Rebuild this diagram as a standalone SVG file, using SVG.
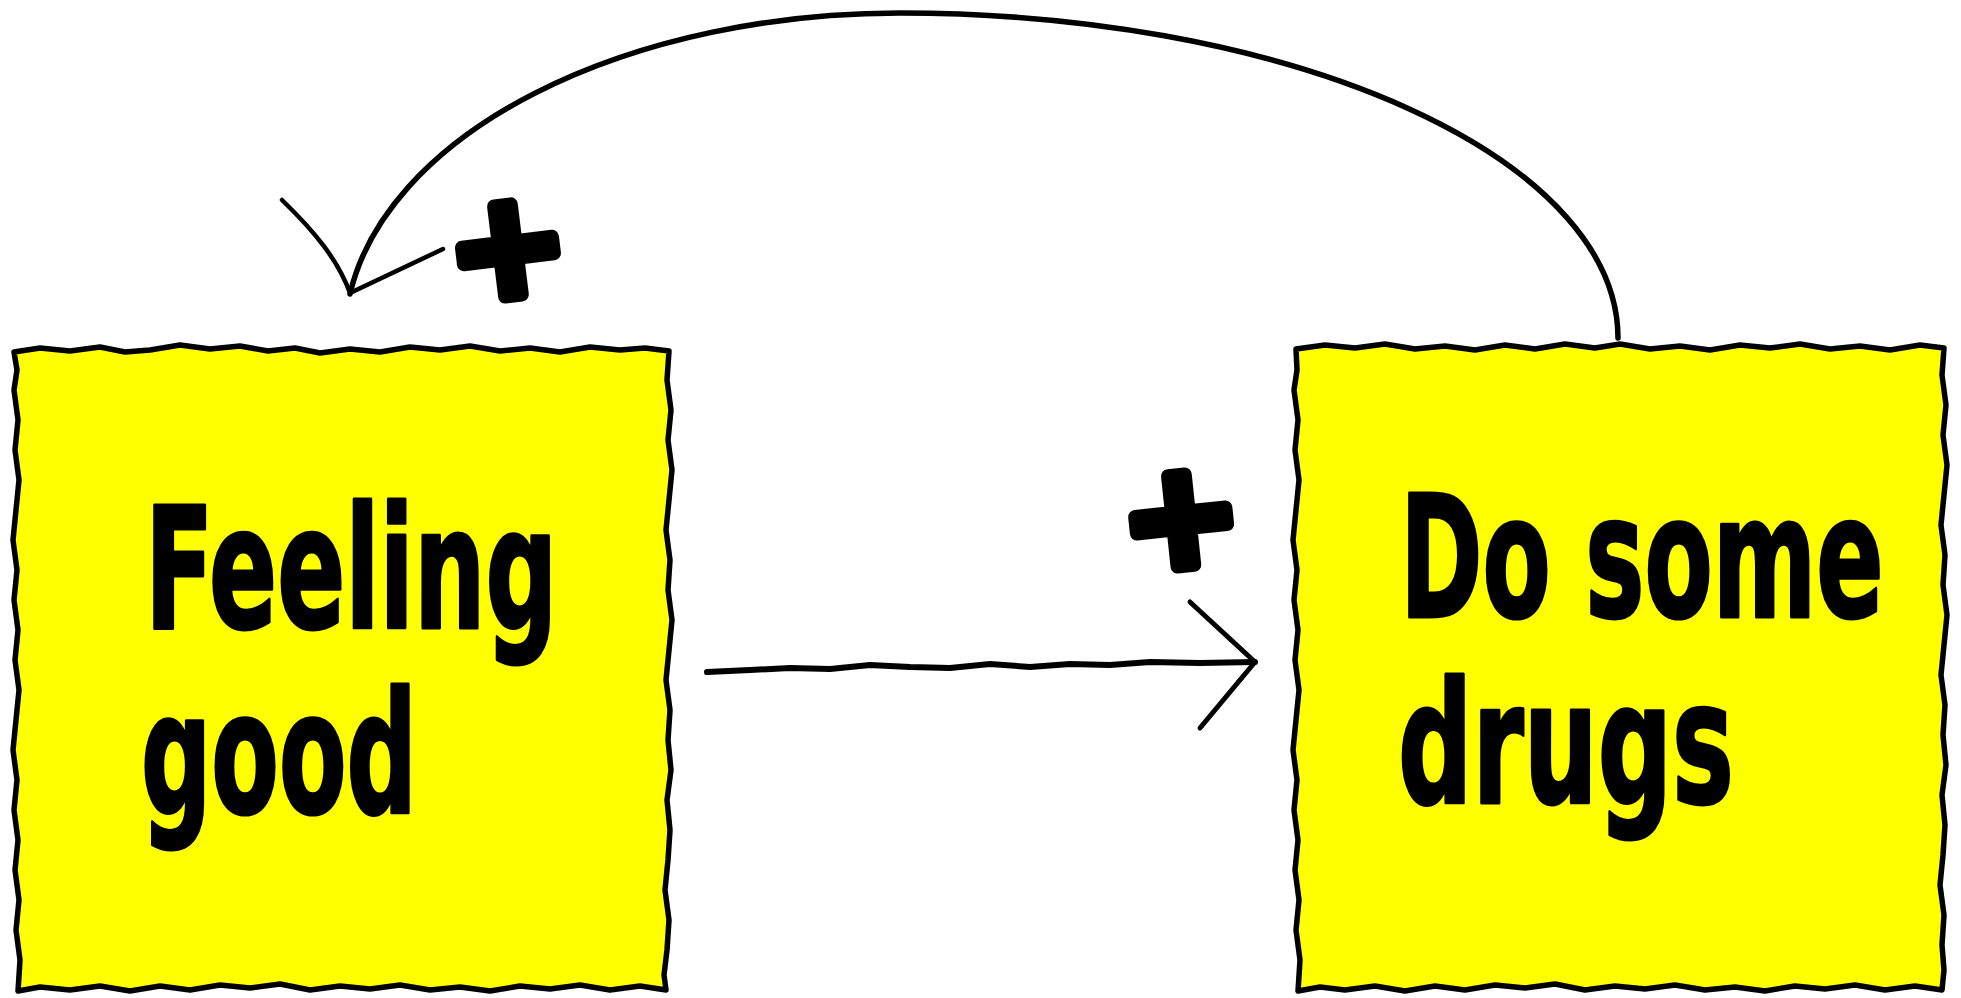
<svg xmlns="http://www.w3.org/2000/svg" width="1961" height="998" viewBox="0 0 1961 998">
<style>
.box{fill:#FFFF00;stroke:#000;stroke-width:5.5;stroke-linejoin:round}
.lbl{font-family:"DejaVu Sans Condensed","DejaVu Sans",sans-serif;font-weight:bold;font-size:169px;fill:#000;stroke:#000;stroke-width:3;stroke-linejoin:round}
.wire{fill:none;stroke:#000;stroke-linecap:round;stroke-linejoin:round}
.pol{font-family:"DejaVu Sans",sans-serif;font-weight:bold;font-size:145px;fill:#000;stroke:#000;stroke-width:14;stroke-linejoin:round;text-anchor:middle}
</style>
<rect width="1961" height="998" fill="#fff"/>
<g id="connectors">
<path class="wire" stroke-width="5.5" d="M1618,338 A718,325 0 0 0 900,13 A555,325 0 0 0 350,294"/>
<path class="wire" stroke-width="4.5" d="M282,200 C315,232 338,260 350,293 L443,249"/>
<path class="wire" stroke-width="6" d="M707,672 L750,670 L790,668 L830,669 L870,665 L910,667 L950,668 L990,664 L1030,667 L1070,664 L1110,665 L1150,662 L1200,663 L1255,662"/>
<path class="wire" stroke-width="5" d="M1190,602 L1255,662 L1200,728"/>
</g>
<g id="node-feeling-good">
<path class="box" d="M14,352 L40,348 L70,351 L100,347 L125,352 L150,350 L180,345 L210,349 L240,346 L268,351 L295,348 L320,353 L350,349 L380,352 L410,347 L440,350 L470,346 L500,351 L530,348 L560,352 L590,347 L620,350 L645,348 L669,351 L667,380 L671,410 L668,440 L672,470 L669,500 L666,530 L670,560 L668,590 L672,620 L669,650 L666,680 L670,710 L668,740 L671,770 L667,800 L670,830 L668,860 L665,890 L669,920 L667,950 L664,975 L666,990 L640,986 L610,990 L580,985 L550,989 L520,986 L490,991 L460,987 L430,990 L400,985 L370,989 L340,986 L310,990 L280,984 L250,988 L220,985 L190,990 L160,986 L130,991 L100,986 L70,990 L40,987 L18,991 L20,960 L16,930 L19,900 L15,870 L18,840 L14,810 L17,780 L13,750 L16,720 L19,690 L15,660 L18,630 L14,600 L17,570 L13,540 L16,510 L19,480 L15,450 L18,420 L14,390 L17,370 Z"/>
<text class="lbl" transform="translate(145,628) scale(0.7,1)" x="0" y="0" textLength="589" lengthAdjust="spacingAndGlyphs">Feeling</text>
<text class="lbl" transform="translate(141,813) scale(0.7,1)" x="0" y="0" textLength="394" lengthAdjust="spacingAndGlyphs">good</text>
</g>
<g id="node-do-some-drugs">
<path class="box" d="M1296,349 L1325,345 L1355,348 L1385,344 L1415,349 L1445,346 L1475,350 L1505,345 L1535,349 L1565,344 L1595,348 L1620,344 L1650,349 L1680,346 L1710,350 L1740,345 L1770,348 L1800,344 L1830,349 L1860,346 L1890,350 L1920,345 L1944,348 L1942,375 L1946,405 L1943,435 L1947,465 L1944,495 L1941,525 L1945,555 L1943,585 L1947,615 L1944,645 L1941,675 L1945,705 L1943,735 L1946,765 L1942,795 L1945,825 L1943,855 L1940,885 L1944,915 L1942,945 L1944,970 L1942,990 L1915,986 L1885,990 L1855,985 L1825,989 L1795,986 L1765,991 L1735,987 L1705,990 L1675,985 L1645,989 L1615,986 L1585,990 L1555,984 L1525,988 L1495,985 L1465,990 L1435,986 L1405,991 L1375,986 L1345,990 L1320,987 L1298,991 L1300,960 L1296,930 L1299,900 L1295,870 L1298,840 L1294,810 L1297,780 L1293,750 L1296,720 L1299,690 L1295,660 L1298,630 L1294,600 L1297,570 L1293,540 L1296,510 L1299,480 L1295,450 L1298,420 L1294,390 L1297,370 Z"/>
<text class="lbl" transform="translate(1400,617) scale(0.7,1)" x="0" y="0" textLength="691" lengthAdjust="spacingAndGlyphs">Do some</text>
<text class="lbl" transform="translate(1398,803) scale(0.7,1)" x="0" y="0" textLength="480" lengthAdjust="spacingAndGlyphs">drugs</text>
</g>
<g id="polarity-labels">
<text class="pol" x="508" y="296" transform="rotate(-7 508 250)">+</text>
<text class="pol" x="1181" y="566" transform="rotate(-6 1181 520)">+</text>
</g>
</svg>
